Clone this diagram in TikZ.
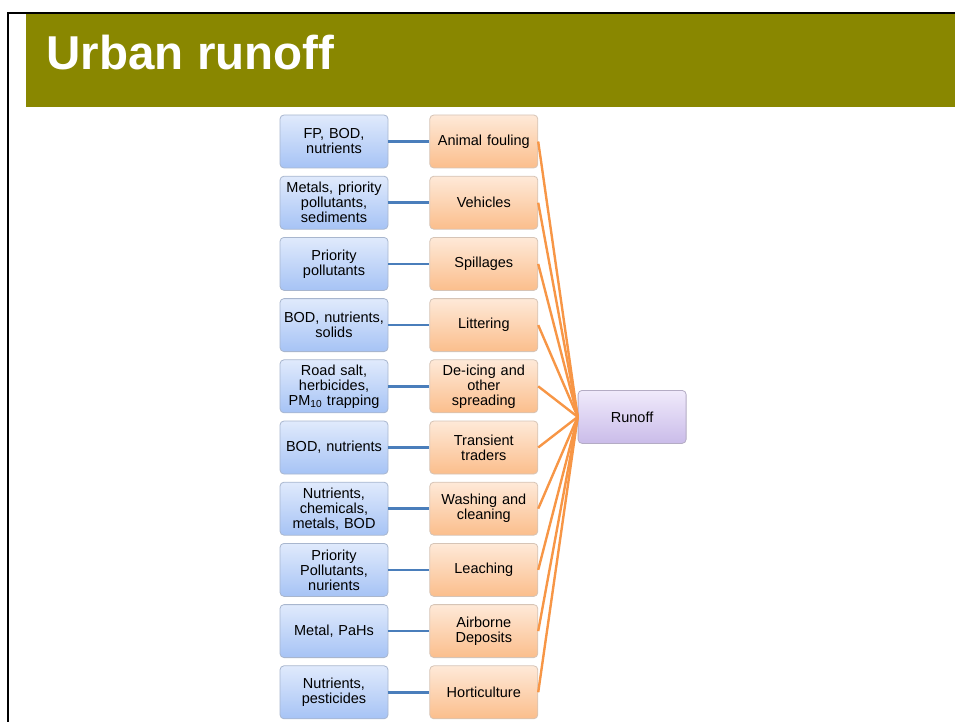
\documentclass[tikz,border=0pt]{standalone}
\usepackage{fontspec}
\setmainfont{Liberation Sans}
\usepackage{tikz}
\usetikzlibrary{shapes.geometric, arrows, calc, positioning}
\definecolor{BannerOlive}{RGB}{137,135,0}
\definecolor{LinkBlue}{RGB}{74,126,187}
\definecolor{FeedOrange}{RGB}{247,150,70}
\tikzstyle{box} = [rectangle, rounded corners=4pt, line width=0.8pt, minimum width=108pt, minimum height=53pt, inner sep=2pt, text width=104pt, align=center, font=\fontsize{14.5}{15}\selectfont]
\tikzstyle{pollutant} = [box, draw={rgb,255:red,168;green,182;blue,206}, top color={rgb,255:red,224;green,234;blue,252}, bottom color={rgb,255:red,166;green,195;blue,245}]
\tikzstyle{source} = [box, draw={rgb,255:red,214;green,196;blue,182}, top color={rgb,255:red,254;green,233;blue,216}, bottom color={rgb,255:red,251;green,190;blue,140}]
\tikzstyle{sink} = [box, draw={rgb,255:red,180;green,172;blue,196}, top color={rgb,255:red,240;green,234;blue,251}, bottom color={rgb,255:red,202;green,188;blue,233}]
\tikzstyle{link} = [line width=2.6pt, draw=LinkBlue]
\tikzstyle{feed} = [line width=2.4pt, draw=FeedOrange]
\tikzstyle{frame} = [line width=2.4pt, draw=black]

\begin{document}
\begin{tikzpicture}[x=1pt, y=-1pt, node distance = 7.4pt]
	\useasboundingbox (0,0) rectangle (955,722);
	% slide header
	\draw [frame] (8,725) -- (8,12.8) -- (958,12.8);
	\fill [BannerOlive] (26,14) rectangle (955,106.7);
	\node (Title) [anchor=base west, inner sep=0pt, text=white, font=\fontsize{47.5}{50}\selectfont\bfseries] at (46.5,70) {Urban runoff};
	% pollutants
	\node (Pollutant1) [pollutant] at (334,141.5) {FP, BOD,\\nutrients};
	\node (Pollutant2) [pollutant, below = of Pollutant1] {Metals, priority\\pollutants,\\sediments};
	\node (Pollutant3) [pollutant, below = of Pollutant2] {Priority\\pollutants};
	\node (Pollutant4) [pollutant, below = of Pollutant3] {BOD, nutrients,\\solids};
	\node (Pollutant5) [pollutant, below = of Pollutant4] {Road salt,\\herbicides,\\PM\textsubscript{10} trapping};
	\node (Pollutant6) [pollutant, below = of Pollutant5] {BOD, nutrients};
	\node (Pollutant7) [pollutant, below = of Pollutant6] {Nutrients,\\chemicals,\\metals, BOD};
	\node (Pollutant8) [pollutant, below = of Pollutant7] {Priority\\Pollutants,\\nurients};
	\node (Pollutant9) [pollutant, below = of Pollutant8] {Metal, PaHs};
	\node (Pollutant10) [pollutant, below = of Pollutant9] {Nutrients,\\pesticides};
	% sources
	\node (Source1) [source, right = 41pt of Pollutant1] {Animal fouling};
	\node (Source2) [source, right = 41pt of Pollutant2] {Vehicles};
	\node (Source3) [source, right = 41pt of Pollutant3] {Spillages};
	\node (Source4) [source, right = 41pt of Pollutant4] {Littering};
	\node (Source5) [source, right = 41pt of Pollutant5] {De-icing and\\other\\spreading};
	\node (Source6) [source, right = 41pt of Pollutant6] {Transient\\traders};
	\node (Source7) [source, right = 41pt of Pollutant7] {Washing and\\cleaning};
	\node (Source8) [source, right = 41pt of Pollutant8] {Leaching};
	\node (Source9) [source, right = 41pt of Pollutant9] {Airborne\\Deposits};
	\node (Source10) [source, right = 41pt of Pollutant10] {Horticulture};
	\path (Source5.east) -- (Source6.east) coordinate[pos=0.5] (SourceMid);
	\node (Runoff) [sink, right = 39.5pt of SourceMid] {Runoff};
	% connectors
	\draw [link] (Pollutant1) -- (Source1);
	\draw [link] (Pollutant2) -- (Source2);
	\draw [link] (Pollutant3) -- (Source3);
	\draw [link] (Pollutant4) -- (Source4);
	\draw [link] (Pollutant5) -- (Source5);
	\draw [link] (Pollutant6) -- (Source6);
	\draw [link] (Pollutant7) -- (Source7);
	\draw [link] (Pollutant8) -- (Source8);
	\draw [link] (Pollutant9) -- (Source9);
	\draw [link] (Pollutant10) -- (Source10);
	\draw [feed] (Source1.east) -- (Runoff.west);
	\draw [feed] (Source2.east) -- (Runoff.west);
	\draw [feed] (Source3.east) -- (Runoff.west);
	\draw [feed] (Source4.east) -- (Runoff.west);
	\draw [feed] (Source5.east) -- (Runoff.west);
	\draw [feed] (Source6.east) -- (Runoff.west);
	\draw [feed] (Source7.east) -- (Runoff.west);
	\draw [feed] (Source8.east) -- (Runoff.west);
	\draw [feed] (Source9.east) -- (Runoff.west);
	\draw [feed] (Source10.east) -- (Runoff.west);
\end{tikzpicture}
\end{document}
